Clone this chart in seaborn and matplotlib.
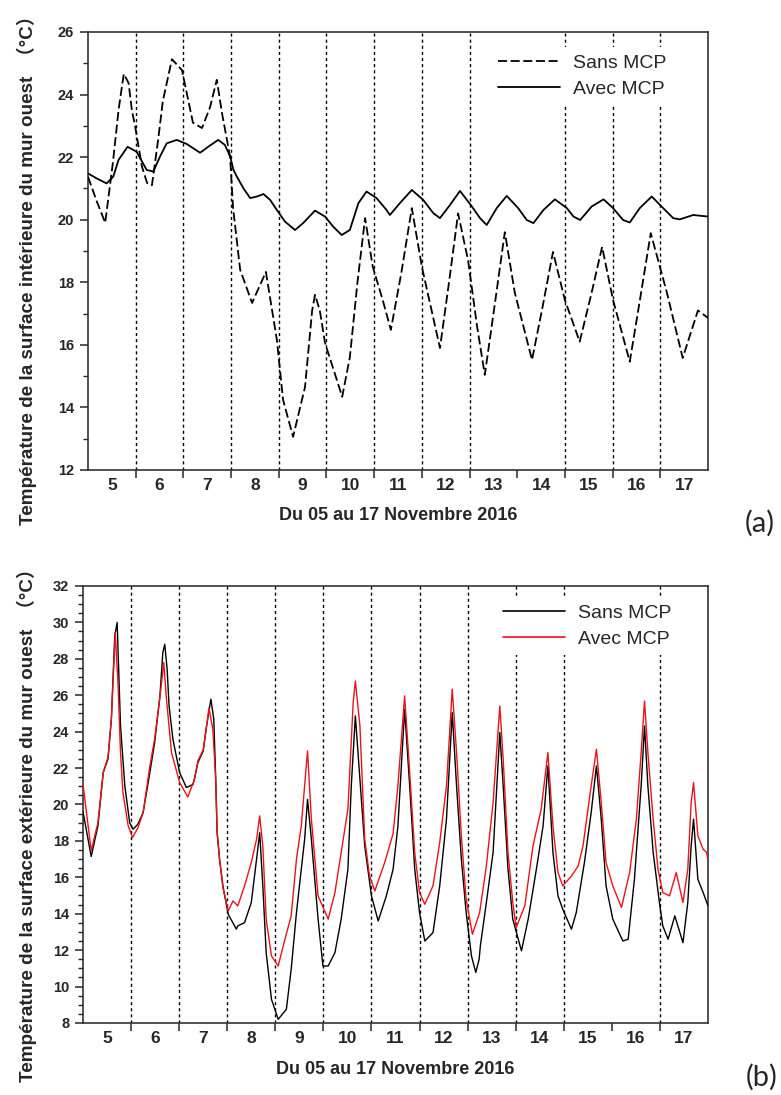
import matplotlib
matplotlib.use("Agg")
import matplotlib.pyplot as plt
import numpy as np
import pandas as pd
import seaborn as sns
from matplotlib.ticker import MultipleLocator, FixedLocator, NullFormatter, FixedFormatter

# ---------------------------------------------------------------- data
# (a) inner surface temperature of the west wall, day of November 2016 -> degC
day_in_avec = [5.00, 5.18, 5.39, 5.53, 5.64, 5.83, 6.02, 6.23, 6.37, 6.51, 6.65, 6.86,
               7.07, 7.35, 7.52, 7.73, 7.87, 7.98, 8.05, 8.12, 8.26, 8.40, 8.54, 8.68,
               8.82, 8.96, 9.13, 9.34, 9.51, 9.76, 9.97, 10.14, 10.32, 10.49, 10.67,
               10.84, 11.05, 11.26, 11.33, 11.54, 11.79, 12.03, 12.24, 12.38, 12.59,
               12.80, 13.05, 13.22, 13.36, 13.57, 13.78, 14.02, 14.20, 14.34, 14.55,
               14.79, 15.04, 15.18, 15.32, 15.56, 15.81, 16.01, 16.22, 16.36, 16.57,
               16.82, 17.06, 17.27, 17.41, 17.69, 18.00]
temp_in_avec = [21.48, 21.32, 21.16, 21.38, 21.91, 22.33, 22.17, 21.59, 21.54, 22.02, 22.44,
                22.55, 22.42, 22.14, 22.33, 22.55, 22.39, 22.02, 21.59, 21.38, 21.00, 20.69,
                20.74, 20.82, 20.63, 20.31, 19.94, 19.67, 19.89, 20.29, 20.10, 19.78, 19.51,
                19.67, 20.53, 20.90, 20.69, 20.31, 20.15, 20.53, 20.95, 20.63, 20.21, 20.05,
                20.47, 20.92, 20.42, 20.05, 19.83, 20.37, 20.76, 20.37, 19.99, 19.89, 20.31,
                20.65, 20.37, 20.10, 19.99, 20.42, 20.65, 20.37, 19.99, 19.91, 20.37, 20.74,
                20.37, 20.05, 20.01, 20.15, 20.10]

day_in_sans = [5.00, 5.18, 5.36, 5.52, 5.64, 5.75, 5.85, 5.92, 5.99, 6.13, 6.24, 6.34,
               6.47, 6.57, 6.76, 6.97, 7.20, 7.39, 7.56, 7.70, 7.81, 7.98, 8.04, 8.19,
               8.44, 8.73, 8.96, 9.09, 9.30, 9.55, 9.70, 9.76, 9.86, 9.97, 10.33, 10.49,
               10.65, 10.81, 10.97, 11.18, 11.35, 11.57, 11.79, 12.00, 12.38, 12.57,
               12.76, 12.97, 13.16, 13.32, 13.53, 13.74, 13.95, 14.31, 14.53, 14.75,
               15.00, 15.31, 15.55, 15.78, 16.01, 16.36, 16.58, 16.80, 17.14, 17.47,
               17.79, 18.00]
temp_in_sans = [21.37, 20.60, 19.90, 21.80, 23.50, 24.66, 24.37, 23.50, 22.97, 21.70, 21.17,
                21.10, 22.55, 23.80, 25.13, 24.78, 23.10, 22.93, 23.60, 24.47, 23.40, 22.00,
                20.40, 18.40, 17.34, 18.33, 16.16, 14.24, 13.06, 14.65, 17.10, 17.60, 17.10,
                16.06, 14.34, 15.60, 18.00, 20.05, 18.50, 17.43, 16.48, 18.30, 20.37, 18.50,
                15.90, 18.00, 20.20, 18.70, 16.57, 15.04, 17.30, 19.60, 17.66, 15.52, 17.20,
                18.97, 17.43, 16.10, 17.60, 19.13, 17.43, 15.46, 17.50, 19.57, 17.66, 15.58,
                17.10, 16.86]

# (b) outer surface temperature of the west wall
day_ext_sans = [5.00, 5.17, 5.31, 5.42, 5.52, 5.59, 5.66, 5.71, 5.73, 5.78, 5.87, 5.97,
                6.04, 6.14, 6.25, 6.39, 6.49, 6.60, 6.66, 6.70, 6.75, 6.79, 6.87, 7.01,
                7.15, 7.29, 7.39, 7.50, 7.57, 7.66, 7.72, 7.76, 7.79, 7.84, 7.91, 8.02,
                8.19, 8.22, 8.36, 8.50, 8.61, 8.675, 8.74, 8.81, 8.92, 9.06, 9.23, 9.33,
                9.44, 9.54, 9.61, 9.67, 9.75, 9.89, 9.99, 10.10, 10.24, 10.37, 10.51,
                10.58, 10.665, 10.76, 10.86, 11.00, 11.14, 11.31, 11.45, 11.55, 11.69,
                11.795, 11.90, 12.00, 12.11, 12.28, 12.42, 12.56, 12.68, 12.77, 12.87,
                12.97, 13.08, 13.17, 13.24, 13.265, 13.39, 13.53, 13.67, 13.74, 13.84,
                13.94, 14.12, 14.26, 14.43, 14.57, 14.67, 14.775, 14.88, 14.98, 15.16,
                15.26, 15.43, 15.57, 15.68, 15.78, 15.88, 16.02, 16.23, 16.34, 16.47,
                16.61, 16.68, 16.75, 16.86, 16.99, 17.06, 17.17, 17.31, 17.48, 17.58,
                17.65, 17.70, 17.79, 17.90, 18.00]
temp_ext_sans = [19.60, 17.14, 18.82, 21.75, 22.50, 24.70, 29.25, 29.99, 28.34, 24.31, 21.02,
                 19.00, 18.64, 18.91, 19.55, 21.75, 23.40, 25.96, 28.34, 28.80, 27.42, 25.41,
                 23.58, 21.75, 20.93, 21.10, 22.30, 22.94, 24.31, 25.78, 24.68, 21.40, 18.45,
                 17.00, 15.53, 13.97, 13.15, 13.33, 13.51, 14.61, 16.99, 18.45, 15.53, 11.86,
                 9.30, 8.20, 8.75, 10.95, 14.06, 16.44, 18.09, 20.28, 18.09, 13.70, 11.13,
                 11.13, 11.86, 13.70, 16.44, 21.02, 24.86, 21.38, 17.72, 14.98, 13.60, 14.98,
                 16.44, 18.80, 25.23, 21.02, 16.44, 14.06, 12.50, 12.96, 15.53, 19.19, 25.04,
                 21.02, 16.99, 14.06, 11.68, 10.77, 11.50, 12.23, 14.61, 17.36, 23.95, 21.02,
                 16.44, 13.70, 11.96, 13.70, 16.44, 18.82, 22.12, 17.36, 14.98, 14.24, 13.15,
                 14.06, 16.81, 19.55, 22.12, 19.19, 15.53, 13.70, 12.50, 12.60, 15.89, 21.02,
                 24.31, 21.02, 17.36, 14.61, 13.33, 12.60, 13.88, 12.41, 14.61, 17.72, 19.19,
                 15.89, 15.16, 14.43]

day_ext_avec = [5.00, 5.17, 5.31, 5.42, 5.52, 5.59, 5.67, 5.73, 5.78, 5.83, 5.94, 6.03,
                6.14, 6.25, 6.39, 6.49, 6.60, 6.68, 6.73, 6.84, 7.01, 7.18, 7.32, 7.39,
                7.50, 7.57, 7.62, 7.70, 7.76, 7.79, 7.84, 7.91, 8.02, 8.12, 8.22, 8.36,
                8.50, 8.61, 8.675, 8.74, 8.81, 8.92, 9.06, 9.20, 9.33, 9.44, 9.54, 9.67,
                9.75, 9.89, 10.10, 10.24, 10.37, 10.51, 10.62, 10.665, 10.76, 10.86,
                10.96, 11.07, 11.275, 11.45, 11.55, 11.69, 11.795, 11.90, 12.00, 12.11,
                12.28, 12.42, 12.56, 12.68, 12.77, 12.87, 12.97, 13.10, 13.25, 13.39,
                13.53, 13.67, 13.74, 13.84, 13.94, 14.01, 14.19, 14.36, 14.53, 14.67,
                14.775, 14.88, 14.98, 15.16, 15.30, 15.40, 15.57, 15.68, 15.78, 15.88,
                16.02, 16.20, 16.37, 16.51, 16.61, 16.68, 16.75, 16.86, 16.96, 17.06,
                17.20, 17.34, 17.48, 17.58, 17.65, 17.70, 17.79, 17.90, 17.97, 18.00]
temp_ext_avec = [21.10, 17.45, 19.00, 21.75, 22.60, 24.70, 29.44, 26.50, 22.85, 20.65, 18.82,
                 18.18, 18.70, 19.55, 22.10, 23.60, 25.90, 27.79, 25.96, 22.85, 21.20, 20.41,
                 21.38, 22.40, 23.00, 24.30, 25.30, 24.13, 21.40, 18.45, 17.00, 15.43, 14.15,
                 14.70, 14.43, 15.53, 16.81, 18.09, 19.37, 17.72, 13.70, 11.68, 11.13, 12.60,
                 13.88, 16.99, 18.82, 22.94, 19.19, 14.98, 13.70, 15.16, 17.36, 19.74, 25.60,
                 26.78, 24.31, 18.09, 16.07, 15.25, 16.81, 18.40, 21.02, 25.96, 21.75, 17.36,
                 15.16, 14.52, 15.53, 17.91, 21.02, 26.33, 22.85, 18.27, 14.79, 12.87, 14.06,
                 16.62, 20.10, 25.41, 22.48, 17.36, 14.61, 13.24, 14.43, 17.72, 19.74, 22.85,
                 18.82, 16.26, 15.53, 16.07, 16.62, 17.72, 21.02, 23.03, 20.10, 16.81, 15.53,
                 14.34, 16.26, 19.19, 22.85, 25.68, 22.85, 19.19, 16.44, 15.16, 14.98, 16.26,
                 14.61, 16.44, 20.10, 21.20, 18.27, 17.54, 17.36, 16.99]

day_labels = ["5", "6", "7", "8", "9", "10", "11", "12", "13", "14", "15", "16", "17"]
series_names = ["Sans MCP", "Avec MCP"]
xlabel_text = "Du 05 au 17 Novembre 2016"
ylabel_in = "Température de la surface intérieure du mur ouest  \uff08°C\uff09"
ylabel_ext = "Température de la surface extérieure du mur ouest  \uff08°C\uff09"
# day separators drawn on each panel
sep_in = [6, 7, 8, 9, 10, 11, 12, 13, 15, 16, 17]
sep_ext = [6, 7, 8, 9, 10, 11, 12, 13, 14, 15, 17]

# ---------------------------------------------------------------- style
sns.set_style("ticks")
plt.rcParams["font.family"] = ["Liberation Sans", "Noto Sans CJK SC", "DejaVu Sans"]
plt.rcParams["axes.edgecolor"] = "#333333"
plt.rcParams["axes.linewidth"] = 1.2

fig = plt.figure(figsize=(7.81, 10.95), dpi=100)
ax_in = fig.add_axes([0.1127, 0.5708, 0.7938, 0.4000])
ax_ext = fig.add_axes([0.1063, 0.0658, 0.8002, 0.3991])

df_in = pd.concat([
    pd.DataFrame({"jour": day_in_sans, "T": temp_in_sans, "cas": series_names[0]}),
    pd.DataFrame({"jour": day_in_avec, "T": temp_in_avec, "cas": series_names[1]}),
])
df_ext = pd.concat([
    pd.DataFrame({"jour": day_ext_sans, "T": temp_ext_sans, "cas": series_names[0]}),
    pd.DataFrame({"jour": day_ext_avec, "T": temp_ext_avec, "cas": series_names[1]}),
])

# (a): dashed without PCM, solid with PCM
sns.lineplot(data=df_in, x="jour", y="T", hue="cas", style="cas",
             palette={series_names[0]: "black", series_names[1]: "black"},
             dashes={series_names[0]: (5, 2), series_names[1]: ""},
             linewidth=1.3, ax=ax_in, zorder=3)
# (b): black without PCM, red with PCM
sns.lineplot(data=df_ext, x="jour", y="T", hue="cas",
             palette={series_names[0]: "black", series_names[1]: "#e8141b"},
             linewidth=1.0, ax=ax_ext, zorder=3)


def style_axis(ax, seps, ylo, yhi, ymaj, ymin, xlabel_y, ylab, ylab_xy):
    ax.set_xlim(5, 18)
    ax.set_ylim(ylo, yhi)
    for s in seps:
        ax.axvline(s, color="black", linestyle=(0, (2.2, 2.2)), linewidth=1.0, zorder=1)
    ax.xaxis.set_major_locator(FixedLocator(np.arange(6, 18)))
    ax.xaxis.set_major_formatter(NullFormatter())
    ax.xaxis.set_minor_locator(FixedLocator(np.arange(5.5, 18, 1.0)))
    ax.xaxis.set_minor_formatter(FixedFormatter(day_labels))
    ax.tick_params(axis="x", which="major", direction="out", length=6, width=1.1)
    ax.tick_params(axis="x", which="minor", length=0, pad=6, labelsize=12.5)
    ax.yaxis.set_major_locator(MultipleLocator(ymaj))
    ax.yaxis.set_minor_locator(MultipleLocator(ymin))
    ax.tick_params(axis="y", which="major", direction="out", length=6, width=1.1,
                   labelsize=10.5, pad=4)
    ax.tick_params(axis="y", which="minor", direction="out", length=3.5, width=1.0)
    for lab in ax.get_xticklabels(minor=True) + ax.get_yticklabels():
        lab.set_fontweight("bold")
    for sp in ax.spines.values():
        sp.set_visible(True)
        sp.set_color("#333333")
    ax.set_xlabel(xlabel_text, fontsize=13, fontweight="bold")
    ax.xaxis.set_label_coords(0.5, xlabel_y)
    ax.set_ylabel(ylab, fontsize=13.6, fontweight="bold")
    ax.yaxis.set_label_coords(*ylab_xy)


style_axis(ax_in, sep_in, 12, 26, 2, 1, -0.085, ylabel_in, (-0.083, 0.466))
style_axis(ax_ext, sep_ext, 8, 32, 2, 0.5, -0.088, ylabel_ext, (-0.074, 0.462))

leg_kw = dict(loc="upper left", frameon=True, facecolor="white", edgecolor="none",
              framealpha=1.0, fontsize=14, handlelength=3.2, handletextpad=0.7,
              labelspacing=0.4, borderpad=0.4, borderaxespad=0.0, title=None)
leg = ax_in.legend(bbox_to_anchor=(0.648, 0.966), **leg_kw)
leg.set_zorder(5)
leg = ax_ext.legend(bbox_to_anchor=(0.659, 0.975), **leg_kw)
leg.set_zorder(5)
for line in leg.get_lines():
    line.set_linewidth(1.2)

fig.text(0.953, 0.522, "(a)", fontsize=21, family="Lato", va="center", ha="left")
fig.text(0.955, 0.016, "(b)", fontsize=21, family="Lato", va="center", ha="left")

fig.savefig("out.png", dpi=100, facecolor="white")
